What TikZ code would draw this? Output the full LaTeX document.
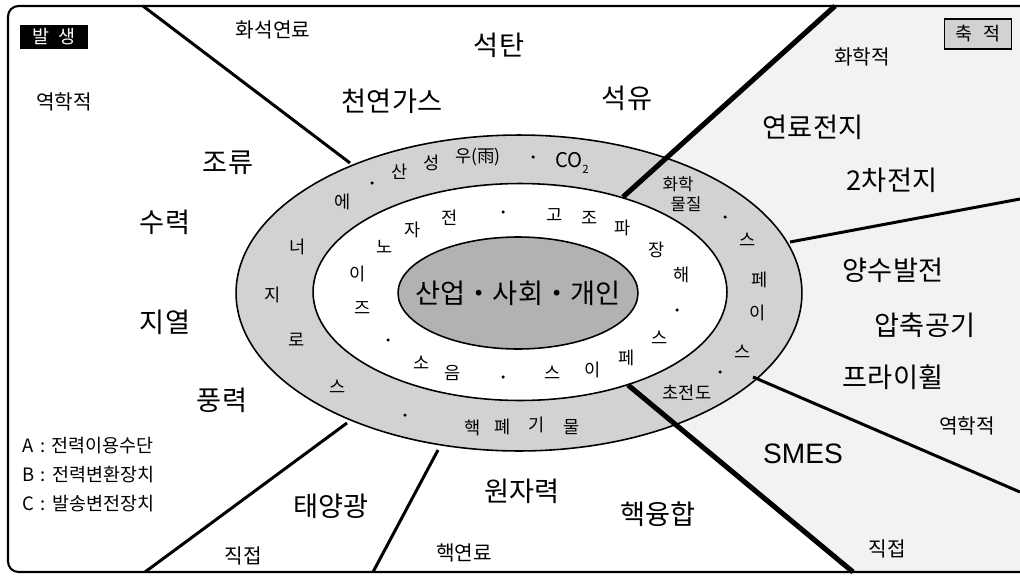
\documentclass[tikz,border=0pt]{standalone}
\usepackage{fontspec}
\setmainfont{Noto Sans CJK KR}
\newfontfamily\lsans{Liberation Sans}
\usetikzlibrary{shapes.geometric}
\begin{document}
\begin{tikzpicture}[x=0.02cm,y=-0.02cm,
  big/.style={font=\fontsize{15.5}{18}\selectfont, inner sep=0},
  small/.style={font=\fontsize{11.5}{14}\selectfont, inner sep=0},
  ringt/.style={font=\fontsize{10}{12}\selectfont, inner sep=0},
  legend/.style={font=\fontsize{10.5}{13}\selectfont, inner sep=0, anchor=west},
  dotn/.style={circle, fill=black, inner sep=0, minimum size=0.07cm},
  spoke/.style={line width=1.7pt},
  thickspoke/.style={line width=2.9pt},
  ringshape/.style={ellipse, draw, line width=0.9pt, inner sep=0, outer sep=0}
]
\useasboundingbox (0,0) rectangle (1020,578);
% storage region
\fill[gray!10] (835,6) -- (1020,6) -- (1020,572) -- (853,572) -- (628,385) -- (623,197) -- cycle;
% frame
\draw[line width=1.2pt, rounded corners=6pt] (1020,6) -- (8,6) -- (8,572) -- (1020,572);
% ellipses
\node[ringshape, fill=gray!35, minimum width=11.32cm, minimum height=6.32cm] (outer) at (519,293) {};
\node[ringshape, fill=white, minimum width=8.28cm, minimum height=4.34cm] (inner) at (520,292) {};
\node[ringshape, fill=gray!60, minimum width=4.8cm, minimum height=2.24cm] (core) at (518,293) {};
\node[font=\fontsize{15.5}{18}\selectfont, inner sep=0] (ctr) at (518,293) {산업・사회・개인};
% spokes
\coordinate (s1a) at (143,6);   \coordinate (s1b) at (350,163);
\coordinate (s2a) at (835,6);   \coordinate (s2b) at (623,197);
\coordinate (s3a) at (1020,199);\coordinate (s3b) at (790,242);
\coordinate (s4a) at (753,377); \coordinate (s4b) at (1020,492);
\coordinate (s5a) at (628,385); \coordinate (s5b) at (853,572);
\coordinate (s6a) at (438,450); \coordinate (s6b) at (373,572);
\coordinate (s7a) at (347,423); \coordinate (s7b) at (145,572);
\draw[spoke] (s1a) -- (s1b);
\draw[thickspoke] (s2a) -- (s2b);
\draw[spoke] (s3a) -- (s3b);
\draw[spoke] (s4a) -- (s4b);
\draw[thickspoke] (s5a) -- (s5b);
\draw[spoke] (s6a) -- (s6b);
\draw[spoke] (s7a) -- (s7b);
% boxes
\node[fill=black, text=white, minimum width=1.36cm, minimum height=0.5cm, inner sep=0,
      font=\fontsize{10.5}{12}\selectfont] (gen) at (54,37) {발\hspace{0.5em}생};
\node[fill=gray!35, draw, line width=0.6pt, minimum width=1.34cm, minimum height=0.6cm, inner sep=0,
      font=\fontsize{10.5}{12}\selectfont] (acc) at (978,34) {축\hspace{0.6em}적};
% large labels
\node[big] (l1) at (499,45) {석탄};
\node[big] (l2) at (392,101) {천연가스};
\node[big] (l3) at (627,98) {석유};
\node[big] (l4) at (228,163) {조류};
\node[big] (l5) at (165,222) {수력};
\node[big] (l6) at (165,322) {지열};
\node[big] (l7) at (222,400) {풍력};
\node[big] (l8) at (331,506) {태양광};
\node[big] (l9) at (522,491) {원자력};
\node[big] (l10) at (658,514) {핵융합};
\node[big, font=\lsans\fontsize{16}{19}\selectfont] (l11) at (803,454) {SMES};
\node[big] (l12) at (893,377) {프라이휠};
\node[big] (l13) at (925,325) {압축공기};
\node[big] (l14) at (893,270) {양수발전};
\node[big] (l15) at (892,180) {2차전지};
\node[big] (l16) at (813,127) {연료전지};
% small labels
\node[small] (m1) at (273,30) {화석연료};
\node[small] (m2) at (64,102) {역학적};
\node[small] (m3) at (862,57) {화학적};
\node[small] (m4) at (243,556) {직접};
\node[small] (m5) at (464,553) {핵연료};
\node[small] (m6) at (887,549) {직접};
\node[small] (m7) at (967,426) {역학적};
% legend
\node[legend] (lgA) at (22,446) {A\hspace{0.35em}:\hspace{0.35em}전력이용수단};
\node[legend] (lgB) at (22,475) {B\hspace{0.35em}:\hspace{0.35em}전력변환장치};
\node[legend] (lgC) at (22,504) {C\hspace{0.35em}:\hspace{0.35em}발송변전장치};
% outer ring text
\foreach \x/\y/\t [count=\i] in {343/202/에, 400/172/산, 432/163/성, 478/157/우(雨),
   748/240/스, 760/280/페, 758/313/이, 743/352/스, 687/393/초전도,
   473/428/핵, 503/427/폐, 537/425/기, 572/427/물,
   298/247/너, 273/295/지, 297/340/로, 338/387/스}
  \node[ringt] (o\i) at (\x,\y) {\t};
\node[ringt, font=\fontsize{11.5}{13}\selectfont] (co2) at (572,163) {CO\raisebox{-0.5ex}{\fontsize{6.5}{7}\selectfont 2}};
\node[ringt, font=\fontsize{9.5}{11}\selectfont] (chem1) at (678,184) {화학};
\node[ringt, font=\fontsize{9.5}{11}\selectfont] (chem2) at (686,204) {물질};
% inner ring text
\foreach \x/\y/\t [count=\i] in {358/274/이, 385/247/노, 413/230/자, 450/218/전,
   555/215/고, 590/218/조, 623/228/파, 657/250/장, 682/275/해,
   660/338/스, 627/358/페, 593/370/이, 553/373/스,
   453/373/음, 422/363/소, 363/308/즈}
  \node[ringt] (i\i) at (\x,\y) {\t};
% dots
\foreach \x/\y [count=\i] in {372/183, 533/157, 725/217, 720/372, 405/415,
   503/212, 677/310, 503/377, 388/340}
  \node[dotn] (d\i) at (\x,\y) {};
\end{tikzpicture}
\end{document}
